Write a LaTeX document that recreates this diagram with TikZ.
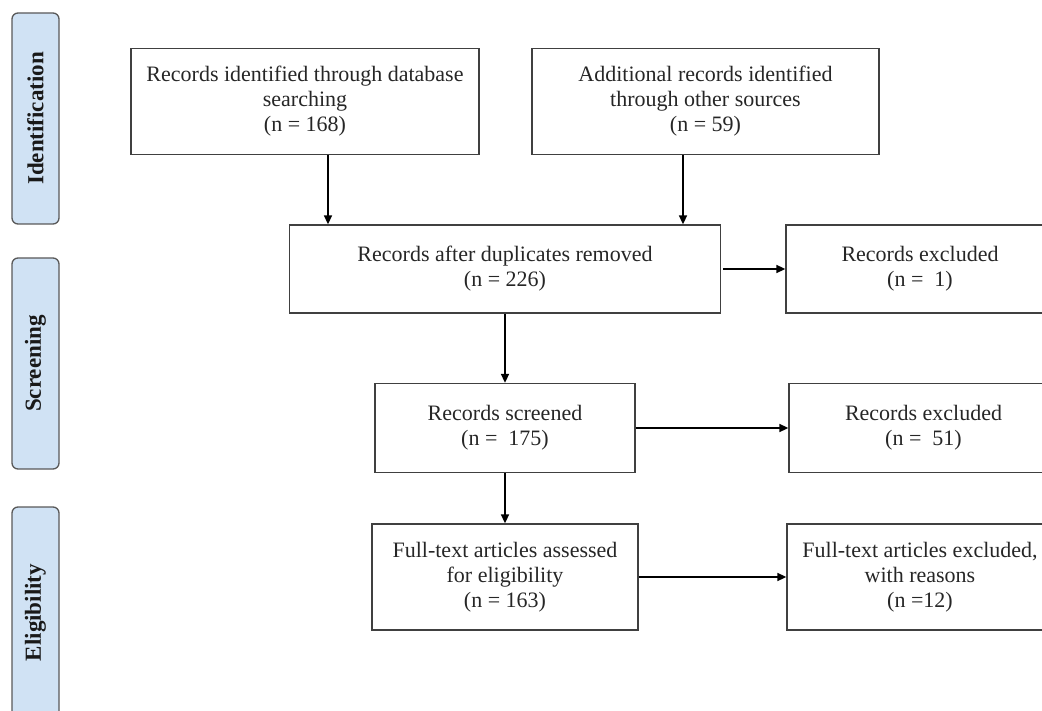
\documentclass[tikz,border=0pt]{standalone}
\usepackage{fontspec}
\setmainfont{Liberation Serif}
\usetikzlibrary{arrows.meta}
\definecolor{phasefill}{RGB}{208,226,244}
\begin{document}
\begin{tikzpicture}[x=1pt,y=-1pt,
  box/.style={draw=black!75,line width=1.3pt,rectangle,align=center,text=black!85,
    font=\fontsize{22}{25}\selectfont,inner sep=0pt},
  phase/.style={draw=black!65,line width=1.3pt,fill=phasefill,rounded corners=6pt,
    minimum width=47pt,inner sep=0pt},
  phasetext/.style={rotate=90,font=\bfseries\fontsize{23}{26}\selectfont,text=black!90},
  arr/.style={line width=1.6pt,-{Triangle[length=9pt,width=8pt]}}]
\useasboundingbox (0,0) rectangle (1042,711);
\clip (0,0) rectangle (1042,711);
% phase bars
\node[phase,minimum height=211pt] (pid) at (35.5,118.5) {};
\node[phasetext] (tid) at (pid.center) {Identification};
\node[phase,minimum height=211pt] (psc) at (35.5,363.5) {};
\node[phasetext] (tsc) at (psc.center) {Screening};
\node[phase,minimum height=211pt] (pel) at (35.5,612.5) {};
\node[phasetext] (tel) at (pel.center) {Eligibility};
% boxes
\node[box,minimum width=348pt,minimum height=106pt] (b1) at (305,101.5)
  {Records identified through database\\searching\\(n = 168)};
\node[box,minimum width=347pt,minimum height=106pt] (b2) at (705.5,101.5)
  {Additional records identified\\through other sources\\(n = 59)};
\node[box,minimum width=431pt,minimum height=88pt] (b3) at (505,269)
  {Records after duplicates removed\\(n = 226)};
\node[box,minimum width=268pt,minimum height=88pt] (b4) at (920,269)
  {Records excluded\\(n =\ \ 1)};
\node[box,minimum width=260pt,minimum height=89pt] (b5) at (505,428)
  {Records screened\\(n =\ \ 175)};
\node[box,minimum width=269pt,minimum height=89pt] (b6) at (923.5,428)
  {Records excluded\\(n =\ \ 51)};
\node[box,minimum width=266pt,minimum height=106pt] (b7) at (505,577)
  {Full-text articles assessed\\for eligibility\\(n = 163)};
\node[box,minimum width=266pt,minimum height=106pt] (b8) at (920,577)
  {Full-text articles excluded,\\with reasons\\(n =12)};
% connectors
\coordinate (c1) at (328,0);
\coordinate (c2) at (683,0);
\draw[arr] (c1 |- b1.south) -- (c1 |- b3.north);
\draw[arr] (c2 |- b2.south) -- (c2 |- b3.north);
\draw[arr] ([xshift=2pt]b3.east) -- (b4.west);
\draw[arr] (b3.south) -- (b5.north);
\draw[arr] (b5.east) -- (b6.west);
\draw[arr] (b5.south) -- (b7.north);
\draw[arr] (b7.east) -- (b8.west);
\end{tikzpicture}
\end{document}
